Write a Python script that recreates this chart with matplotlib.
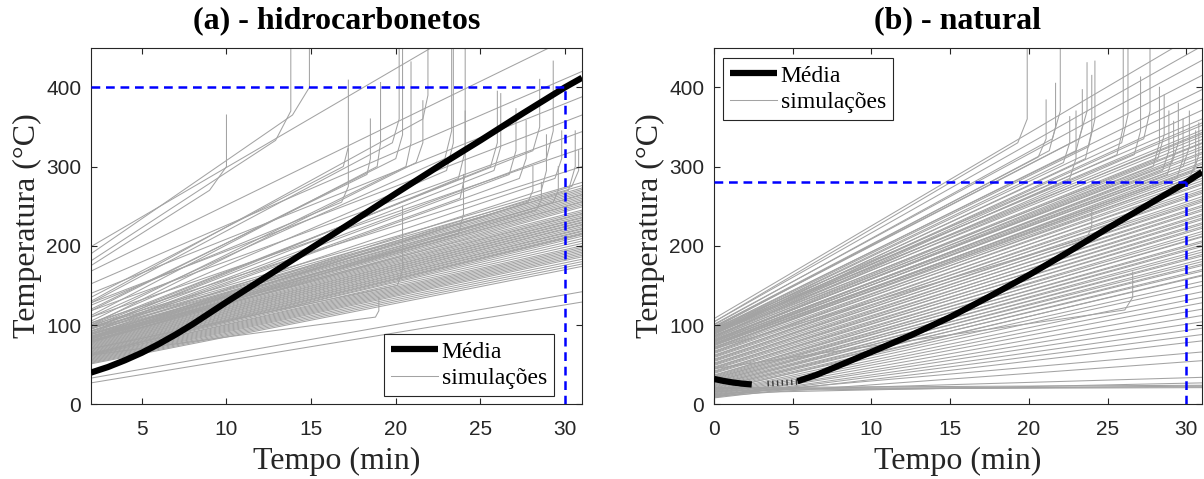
import matplotlib
matplotlib.use('Agg')
import matplotlib.pyplot as plt

# ---------------- (a) hidrocarbonetos ----------------
a_t0 = 2.0
a_t1 = 31.0
# straight simulations: temperature at t=2 and at t=31
a_y0 = [199, 168, 152, 140, 128, 118, 110, 103,
        100, 98, 96, 95, 93, 92, 90, 89, 88, 86, 85, 84, 83, 82, 80, 79,
        86, 84, 83, 81, 80, 79, 78, 77, 76, 75, 74, 73, 72, 71, 70, 69, 68, 67, 66, 65, 64, 63,
        64, 63, 62,
        62, 61, 60, 59, 58, 57, 56, 55, 54, 53, 52, 51,
        33, 27]
a_y1 = [561, 470, 420, 388, 365, 344, 323, 300,
        280, 276, 273, 271, 269, 267, 265, 264, 262, 260, 258, 256, 255, 253, 251, 249,
        245, 243, 241, 240, 238, 236, 235, 233, 232, 230, 229, 227, 226, 224, 222, 221, 219, 218, 216, 215, 214, 212,
        209, 206, 203,
        200, 198, 196, 194, 192, 190, 188, 186, 183, 180, 177, 174,
        142, 129]
# runaway simulations: start, knee (tk, yk), bend (tt, yb), tip (tt, yt)
a_s_y0 = [175, 181, 190, 135, 125, 120, 112, 128, 118, 70, 62, 105, 100, 130, 110, 102,
          95, 92, 88, 98, 96, 92, 90, 100, 95, 85, 88, 84, 86, 80, 78, 82]
a_s_tk = [9.0, 12.9, 13.9, 16.9, 16.8, 18.3, 18.9, 19.8, 20.0, 20.1, 18.8, 20.6, 21.2, 21.6, 22.9, 23.0,
          23.7, 23.8, 23.7, 25.6, 25.8, 26.7, 27.3, 28.1, 28.9, 28.6, 29.4, 30.2, 30.4, 29.3, 28.3, 27.8]
a_s_yk = [270, 333, 365, 300, 255, 290, 300, 330, 310, 150, 110, 300, 305, 360, 310, 295,
          285, 260, 215, 300, 295, 290, 285, 320, 310, 270, 285, 270, 275, 255, 245, 255]
a_s_tt = [10.0, 13.8, 14.9, 17.2, 17.2, 18.5, 19.1, 20.2, 20.4, 20.4, 19.0, 20.9, 21.6, 21.9, 23.3, 23.4,
          24.1, 24.1, 24.0, 26.0, 26.2, 27.1, 27.7, 28.5, 29.3, 28.9, 29.8, 30.6, 30.8, 29.6, 28.6, 28.1]
a_s_yb = [300, 370, 400, 325, 275, 310, 330, 360, 340, 170, 118, 330, 330, 390, 345, 330,
          320, 290, 240, 330, 325, 320, 310, 350, 345, 295, 310, 300, 295, 270, 258, 270]
a_s_yt = [365, 460, 460, 409, 323, 360, 406, 460, 460, 250, 135, 432, 383, 460, 460, 460,
          460, 370, 290, 395, 392, 373, 358, 410, 433, 340, 345, 345, 320, 300, 280, 300]
a_mean_t = [2, 3, 4, 5, 6, 7, 8, 9, 10, 12.5, 15, 17.5, 20, 22.5, 25, 27.5, 30, 31]
a_mean_y = [40, 47, 55.5, 65, 76, 88, 101, 115, 129, 163, 197, 231, 266, 300, 333, 367, 400, 412]
a_crit_t = 30
a_crit_y = 400

# ---------------- (b) natural ----------------
b_t0 = 0.0
b_t1 = 31.0
b_y0 = [108, 104, 101, 98, 95, 92, 89,
        96, 94, 93, 91, 90, 89, 87, 86, 85, 84, 82, 81, 80, 79, 77, 76, 75, 74, 72, 71,
        70, 69, 67, 66, 65, 64, 62, 61, 60, 59, 57, 56, 55, 54, 52, 51, 50, 49, 47, 46,
        45, 44, 42, 41, 40, 39, 37, 36, 35, 34, 33, 32, 31, 30, 29, 28, 27, 26, 25, 24,
        23, 22, 21, 20, 19, 18, 17, 16, 15, 14,
        13, 12, 11, 10, 10, 9, 9, 8,
        12, 10, 16, 14, 20, 19, 21, 17]
b_y1 = [471, 452, 434, 415, 397, 385, 371,
        360, 352, 341, 355, 346, 338, 330, 343, 334, 325, 318, 329, 322, 312, 305, 316, 309, 300, 294, 303,
        297, 288, 282, 291, 285, 277, 270, 279, 273, 266, 259, 268, 262, 255, 249, 257, 251, 244, 238, 246,
        240, 233, 227, 235, 229, 222, 215, 224, 218, 211, 204, 212, 206, 199, 192, 201, 195, 187, 180, 189,
        183, 175, 168, 177, 170, 162, 155, 163, 150, 142,
        135, 128, 120, 112, 104, 96, 88, 80,
        66, 55, 34, 27, 22, 21, 24, 23]
b_s_y0 = [104, 98, 96, 100, 92, 94, 97, 90, 93, 88, 91, 85, 89, 80, 83, 78, 76, 81, 74, 79, 72, 75, 45, 70, 86]
b_s_tk = [19.3, 20.6, 21.3, 21.5, 22.2, 23.0, 23.2, 23.6, 23.8, 25.6, 25.9, 26.7, 27.3, 27.9, 28.2,
          28.5, 28.8, 29.1, 29.4, 29.8, 30.2, 30.5, 26.1, 23.7, 22.6]
b_s_yk = [330, 312, 320, 335, 305, 320, 335, 310, 325, 315, 330, 315, 335, 300, 310,
          295, 290, 305, 285, 300, 285, 295, 119, 210, 285]
b_s_tt = [19.9, 21.1, 21.7, 22.0, 22.6, 23.4, 23.7, 24.0, 24.2, 26.0, 26.3, 27.1, 27.7, 28.3, 28.6,
          28.9, 29.2, 29.5, 29.8, 30.2, 30.6, 30.8, 26.6, 24.0, 23.0]
b_s_yb = [360, 335, 350, 370, 330, 350, 370, 345, 360, 350, 365, 345, 370, 330, 340,
          320, 315, 330, 310, 325, 305, 315, 135, 225, 310]
b_s_yt = [460, 384, 405, 460, 363, 397, 431, 415, 433, 460, 460, 413, 460, 400, 390,
          370, 357, 380, 360, 370, 345, 355, 167, 245, 370]
b_mean1_t = [0, 0.6, 1.2, 1.8, 2.4]
b_mean1_y = [32, 29.5, 27.5, 26, 25]
b_gap_t = [3.4, 5.3]
b_gap_y = [26, 28]
b_mean2_t = [5.3, 6.5, 7.6, 10, 12.5, 15, 17.5, 20, 22.5, 25, 27.5, 30, 31]
b_mean2_y = [29, 37, 46, 66, 87, 110, 136, 163, 192, 222, 251, 280, 293]
b_crit_t = 30
b_crit_y = 280

GRAY = '#a3a3a3'
BLUE = '#0000ff'
AXC = '#262626'
SERIF = 'Liberation Serif'
plt.rcParams['font.family'] = ['Liberation Sans', 'DejaVu Sans']

fig = plt.figure(figsize=(12.04, 4.79), dpi=100)
ax1 = fig.add_axes([0.0756, 0.156, 0.4078, 0.7445])
ax2 = fig.add_axes([0.5930, 0.156, 0.4053, 0.7445])


def draw_sims(ax, t0, t1, y0, y1, s_y0, s_tk, s_yk, s_tt, s_yb, s_yt):
    h = None
    for ya, yb in zip(y0, y1):
        h, = ax.plot([t0, t1], [ya, yb], color=GRAY, lw=0.75, zorder=1)
    for ya, tk, yk, tt, ybend, ytip in zip(s_y0, s_tk, s_yk, s_tt, s_yb, s_yt):
        ax.plot([t0, tk, tt, tt], [ya, yk, ybend, ytip], color=GRAY, lw=0.75, zorder=1)
    return h


def style(ax, xlim, xticks, title):
    ax.set_xlim(*xlim)
    ax.set_ylim(0, 450)
    ax.set_xticks(xticks)
    ax.set_yticks([0, 100, 200, 300, 400])
    ax.tick_params(direction='in', top=True, right=True, length=4, width=0.8,
                   labelsize=15, colors=AXC)
    ax.tick_params(axis='x', pad=11)
    ax.tick_params(axis='y', pad=7)
    for s in ax.spines.values():
        s.set_color(AXC)
        s.set_linewidth(0.8)
    ax.set_xlabel('Tempo (min)', family=SERIF, fontsize=23, color=AXC, labelpad=6)
    ax.set_ylabel('Temperatura (°C)', family=SERIF, fontsize=23, color=AXC, labelpad=3)
    ax.set_title(title, family=SERIF, fontsize=23, fontweight='bold', pad=14)


# panel (a)
hs = draw_sims(ax1, a_t0, a_t1, a_y0, a_y1, a_s_y0, a_s_tk, a_s_yk, a_s_tt, a_s_yb, a_s_yt)
hm, = ax1.plot(a_mean_t, a_mean_y, color='k', lw=4.5, zorder=3, solid_capstyle='butt')
ax1.plot([a_t0, a_crit_t], [a_crit_y, a_crit_y], color=BLUE, lw=1.8, ls=(0, (3.5, 2.3)), zorder=4)
ax1.plot([a_crit_t, a_crit_t], [0, a_crit_y], color=BLUE, lw=1.8, ls=(0, (3.5, 2.3)), zorder=4)
style(ax1, (2, 31), [5, 10, 15, 20, 25, 30], '(a) - hidrocarbonetos')
leg = ax1.legend([hm, hs], ['Média', 'simulações'], loc='lower right',
                 bbox_to_anchor=(0.943, 0.023), prop={'family': SERIF, 'size': 17},
                 fancybox=False, framealpha=1, edgecolor=AXC, handlelength=2.0,
                 handletextpad=0.15, borderpad=0.3, labelspacing=0.2, borderaxespad=0)
leg.get_frame().set_linewidth(0.8)

# panel (b)
hs = draw_sims(ax2, b_t0, b_t1, b_y0, b_y1, b_s_y0, b_s_tk, b_s_yk, b_s_tt, b_s_yb, b_s_yt)
hm, = ax2.plot(b_mean1_t, b_mean1_y, color='k', lw=4.5, zorder=3, solid_capstyle='butt')
ax2.plot(b_gap_t, b_gap_y, color='#3a3a3a', lw=4.0, ls=(0, (0.25, 0.6)), zorder=3)
ax2.plot(b_mean2_t, b_mean2_y, color='k', lw=4.5, zorder=3, solid_capstyle='butt')
ax2.plot([b_t0, b_crit_t], [b_crit_y, b_crit_y], color=BLUE, lw=1.8, ls=(0, (3.5, 2.3)), zorder=4)
ax2.plot([b_crit_t, b_crit_t], [0, b_crit_y], color=BLUE, lw=1.8, ls=(0, (3.5, 2.3)), zorder=4)
style(ax2, (0, 31), [0, 5, 10, 15, 20, 25, 30], '(b) - natural')
leg = ax2.legend([hm, hs], ['Média', 'simulações'], loc='upper left',
                 bbox_to_anchor=(0.018, 0.971), prop={'family': SERIF, 'size': 17},
                 fancybox=False, framealpha=1, edgecolor=AXC, handlelength=2.0,
                 handletextpad=0.15, borderpad=0.3, labelspacing=0.2, borderaxespad=0)
leg.get_frame().set_linewidth(0.8)

fig.savefig('out.png', dpi=100)
